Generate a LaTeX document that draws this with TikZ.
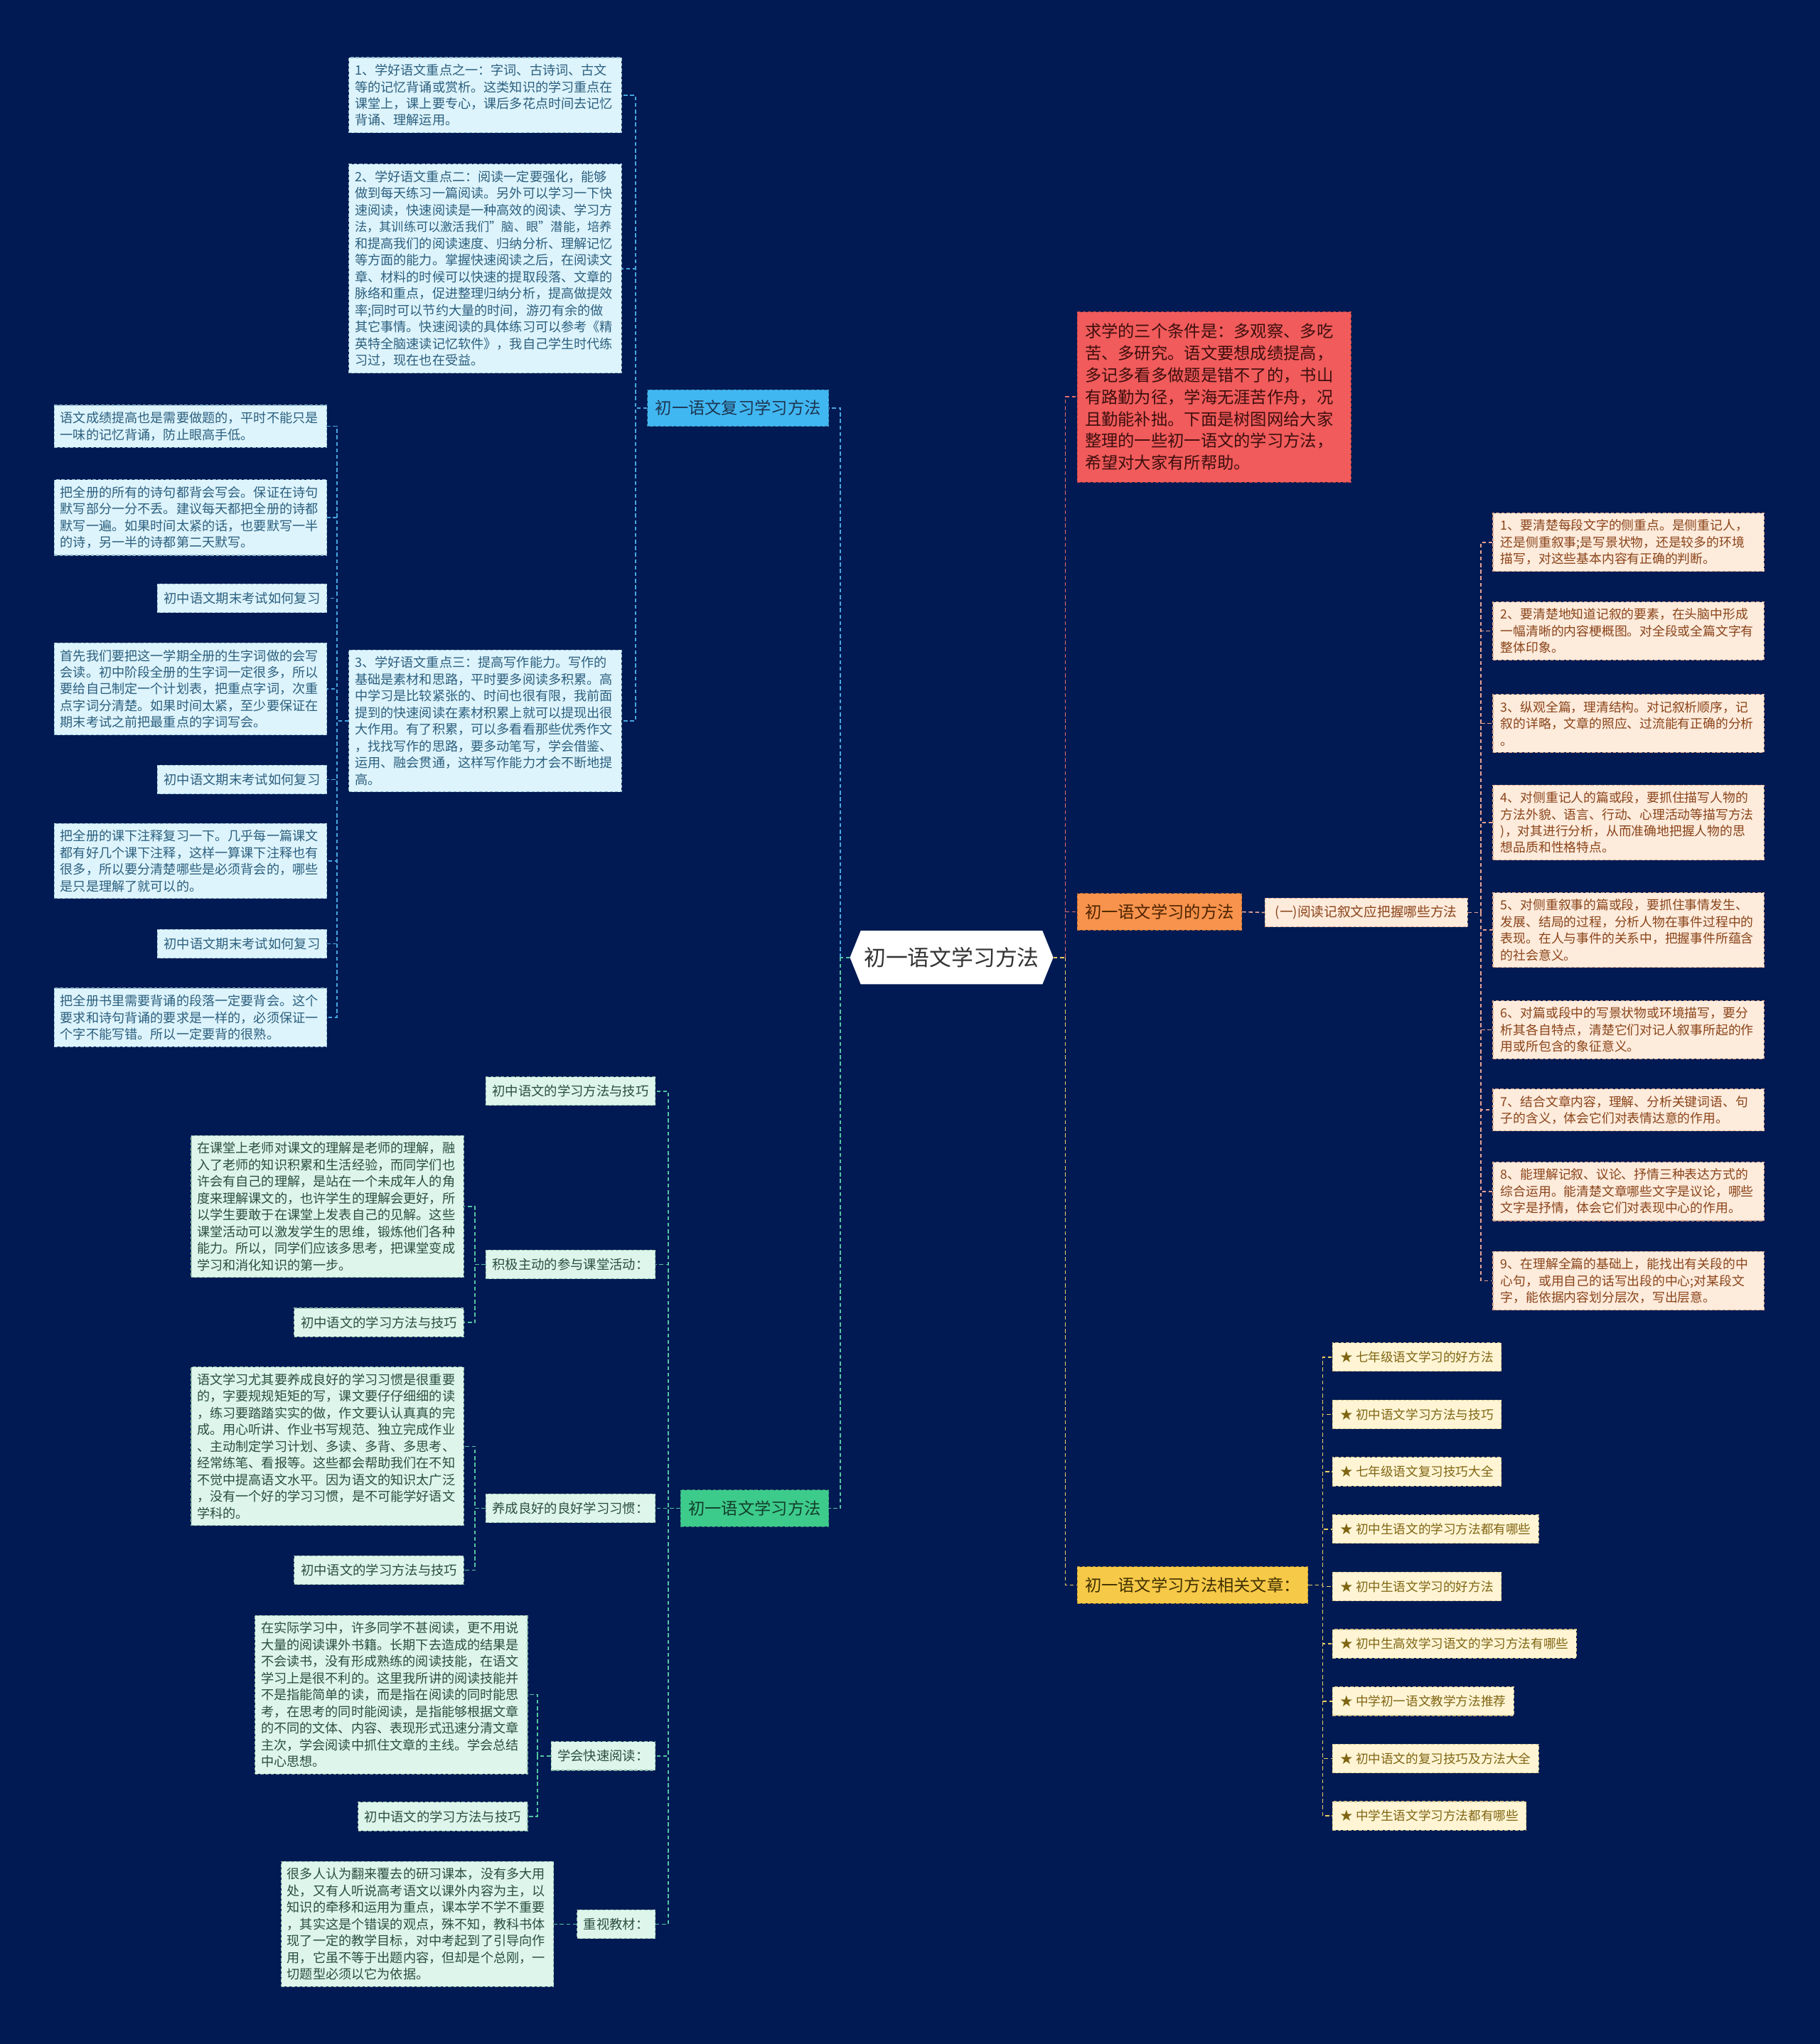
\documentclass[tikz,border=0pt]{standalone}
\usepackage{fontspec}
\setmainfont{Noto Sans CJK SC}
\usetikzlibrary{shapes.symbols}

\definecolor{Navy}{HTML}{011A53}
\definecolor{RootInk}{HTML}{333333}
\definecolor{BlueLeaf}{HTML}{DDF4FC}
\definecolor{BlueEdge}{HTML}{8FB8CC}
\definecolor{BlueInk}{HTML}{2C5F7E}
\definecolor{BlueBranch}{HTML}{41B7F2}
\definecolor{BlueBranchInk}{HTML}{1C3550}
\definecolor{GreenBranch}{HTML}{3DCB8B}
\definecolor{GreenBranchInk}{HTML}{123F2C}
\definecolor{GreenLeaf}{HTML}{DDF5EB}
\definecolor{GreenEdge}{HTML}{8DBBA8}
\definecolor{GreenInk}{HTML}{2B4E3F}
\definecolor{RedBox}{HTML}{F15B5B}
\definecolor{RedInk}{HTML}{3E0E0E}
\definecolor{OrangeBox}{HTML}{F7934C}
\definecolor{OrangeInk}{HTML}{4D2300}
\definecolor{PeachLeaf}{HTML}{FDEBDC}
\definecolor{PeachEdge}{HTML}{D9A88C}
\definecolor{PeachInk}{HTML}{8A4419}
\definecolor{YellowBox}{HTML}{F7C948}
\definecolor{YellowInk}{HTML}{3E3000}
\definecolor{Cream}{HTML}{FFF5D5}
\definecolor{CreamEdge}{HTML}{D8C58A}
\definecolor{CreamInk}{HTML}{7F6512}
\definecolor{LineBlue}{HTML}{47A6E0}
\definecolor{LineTeal}{HTML}{53C3A2}
\definecolor{LineRed}{HTML}{E46C6C}
\definecolor{LinePeach}{HTML}{E7A394}
\definecolor{LineYellow}{HTML}{EDD063}

\begin{document}
\begin{tikzpicture}[x=1pt, y=-1pt,
    box/.style={draw, dash pattern=on 2.5pt off 1.5pt, line width=0.6pt, align=left},
    leaf/.style={box, text width=200pt, inner xsep=4.5pt, inner ysep=5pt,
        font=\fontsize{9.9}{12.8}\selectfont},
    tag/.style={box, inner xsep=5pt, inner ysep=0pt, minimum height=22pt,
        font=\fontsize{10}{12}\selectfont},
    branch/.style={box, inner xsep=6pt, inner ysep=0pt, minimum height=28pt,
        font=\fontsize{12.7}{15}\selectfont},
    blueleaf/.style={fill=BlueLeaf, draw=BlueEdge, text=BlueInk},
    greenleaf/.style={fill=GreenLeaf, draw=GreenEdge, text=GreenInk},
    peachleaf/.style={fill=PeachLeaf, draw=PeachEdge, text=PeachInk},
    creamleaf/.style={fill=Cream, draw=CreamEdge, text=CreamInk},
    link/.style={dash pattern=on 3pt off 2pt, line width=0.9pt}
]

    \useasboundingbox (0,0) rectangle (1396,1568);
    \fill[Navy] (0,0) rectangle (1396,1568);

    % Root
    \node[signal, signal to=east and west, signal pointer angle=136, fill=white,
        minimum width=156pt, minimum height=41pt, inner xsep=2pt, inner ysep=0pt,
        text=RootInk, font=\fontsize{16.8}{20}\selectfont] (root) at (730,734.5) {初一语文学习方法};

    % Review branch
    \node[branch, fill=BlueBranch, draw=LineBlue!70!black, text=BlueBranchInk, anchor=east]
        (review) at (636,313) {初一语文复习学习方法};

    \node[leaf, blueleaf, anchor=east] (rv-1) at (477,73) {1、学好语文重点之一：字词、古诗词、古文\\等的记忆背诵或赏析。这类知识的学习重点在\\课堂上，课上要专心，课后多花点时间去记忆\\背诵、理解运用。};
    \node[leaf, blueleaf, anchor=east] (rv-2) at (477,206) {2、学好语文重点二：阅读一定要强化，能够\\做到每天练习一篇阅读。另外可以学习一下快\\速阅读，快速阅读是一种高效的阅读、学习方\\{\fontsize{9.4}{12.8}\selectfont 法，其训练可以激活我们"脑、眼"潜能，培养}\\和提高我们的阅读速度、归纳分析、理解记忆\\等方面的能力。掌握快速阅读之后，在阅读文\\章、材料的时候可以快速的提取段落、文章的\\脉络和重点，促进整理归纳分析，提高做提效\\率;同时可以节约大量的时间，游刃有余的做\\其它事情。快速阅读的具体练习可以参考《精\\英特全脑速读记忆软件》，我自己学生时代练\\习过，现在也在受益。};
    \node[leaf, blueleaf, anchor=east] (rv-3) at (477,553) {3、学好语文重点三：提高写作能力。写作的\\基础是素材和思路，平时要多阅读多积累。高\\中学习是比较紧张的、时间也很有限，我前面\\提到的快速阅读在素材积累上就可以提现出很\\大作用。有了积累，可以多看看那些优秀作文\\，找找写作的思路，要多动笔写，学会借鉴、\\运用、融会贯通，这样写作能力才会不断地提\\高。};

    \node[leaf, blueleaf, anchor=east] (rvn-1) at (251,327) {语文成绩提高也是需要做题的，平时不能只是\\一味的记忆背诵，防止眼高手低。};
    \node[leaf, blueleaf, anchor=east] (rvn-2) at (251,397) {把全册的所有的诗句都背会写会。保证在诗句\\默写部分一分不丢。建议每天都把全册的诗都\\默写一遍。如果时间太紧的话，也要默写一半\\的诗，另一半的诗都第二天默写。};
    \node[tag, blueleaf, anchor=east] (rvn-3) at (251,459) {初中语文期末考试如何复习};
    \node[leaf, blueleaf, anchor=east] (rvn-4) at (251,528.5) {首先我们要把这一学期全册的生字词做的会写\\会读。初中阶段全册的生字词一定很多，所以\\要给自己制定一个计划表，把重点字词，次重\\点字词分清楚。如果时间太紧，至少要保证在\\期末考试之前把最重点的字词写会。};
    \node[tag, blueleaf, anchor=east] (rvn-5) at (251,598) {初中语文期末考试如何复习};
    \node[leaf, blueleaf, anchor=east] (rvn-6) at (251,660.5) {把全册的课下注释复习一下。几乎每一篇课文\\都有好几个课下注释，这样一算课下注释也有\\很多，所以要分清楚哪些是必须背会的，哪些\\是只是理解了就可以的。};
    \node[tag, blueleaf, anchor=east] (rvn-7) at (251,724) {初中语文期末考试如何复习};
    \node[leaf, blueleaf, anchor=east] (rvn-8) at (251,780.5) {把全册书里需要背诵的段落一定要背会。这个\\要求和诗句背诵的要求是一样的，必须保证一\\个字不能写错。所以一定要背的很熟。};

    \draw[link, LineTeal] (root.west) -- ++(-7,0) coordinate (lspine);
    \draw[link, LineBlue] (lspine) |- (review.east);
    \foreach \i in {1,2,3}
        \draw[link, LineBlue] (review.west) -- ++(-9,0) |- (rv-\i.east);
    \foreach \i in {1,...,8}
        \draw[link, LineBlue] (rv-3.west) -- ++(-9,0) |- (rvn-\i.east);

    % Method branch
    \node[branch, fill=GreenBranch, draw=LineTeal!70!black, text=GreenBranchInk, anchor=east]
        (method) at (636,1157) {初一语文学习方法};

    \node[tag, greenleaf, anchor=east] (md-1) at (503,837) {初中语文的学习方法与技巧};
    \node[tag, greenleaf, anchor=east] (md-2) at (503,970) {积极主动的参与课堂活动：};
    \node[tag, greenleaf, anchor=east] (md-3) at (503,1157) {养成良好的良好学习习惯：};
    \node[tag, greenleaf, anchor=east] (md-4) at (503,1347) {学会快速阅读：};
    \node[tag, greenleaf, anchor=east] (md-5) at (503,1476) {重视教材：};

    \node[leaf, greenleaf, anchor=east] (mdt-1) at (356,925.5) {在课堂上老师对课文的理解是老师的理解，融\\入了老师的知识积累和生活经验，而同学们也\\许会有自己的理解，是站在一个未成年人的角\\度来理解课文的，也许学生的理解会更好，所\\以学生要敢于在课堂上发表自己的见解。这些\\课堂活动可以激发学生的思维，锻炼他们各种\\能力。所以，同学们应该多思考，把课堂变成\\学习和消化知识的第一步。};
    \node[tag, greenleaf, anchor=east] (mdt-1b) at (356,1014.5) {初中语文的学习方法与技巧};
    \node[leaf, greenleaf, anchor=east] (mdt-2) at (356,1109.5) {语文学习尤其要养成良好的学习习惯是很重要\\的，字要规规矩矩的写，课文要仔仔细细的读\\，练习要踏踏实实的做，作文要认认真真的完\\成。用心听讲、作业书写规范、独立完成作业\\、主动制定学习计划、多读、多背、多思考、\\经常练笔、看报等。这些都会帮助我们在不知\\不觉中提高语文水平。因为语文的知识太广泛\\，没有一个好的学习习惯，是不可能学好语文\\学科的。};
    \node[tag, greenleaf, anchor=east] (mdt-2b) at (356,1204.5) {初中语文的学习方法与技巧};
    \node[leaf, greenleaf, anchor=east] (mdt-3) at (405,1300) {在实际学习中，许多同学不甚阅读，更不用说\\大量的阅读课外书籍。长期下去造成的结果是\\不会读书，没有形成熟练的阅读技能，在语文\\学习上是很不利的。这里我所讲的阅读技能并\\不是指能简单的读，而是指在阅读的同时能思\\考，在思考的同时能阅读，是指能够根据文章\\的不同的文体、内容、表现形式迅速分清文章\\主次，学会阅读中抓住文章的主线。学会总结\\中心思想。};
    \node[tag, greenleaf, anchor=east] (mdt-3b) at (405,1393.5) {初中语文的学习方法与技巧};
    \node[leaf, greenleaf, anchor=east] (mdt-4) at (425,1476) {很多人认为翻来覆去的研习课本，没有多大用\\处，又有人听说高考语文以课外内容为主，以\\知识的牵移和运用为重点，课本学不学不重要\\，其实这是个错误的观点，殊不知，教科书体\\现了一定的教学目标，对中考起到了引导向作\\用，它虽不等于出题内容，但却是个总刚，一\\切题型必须以它为依据。};

    \draw[link, LineTeal] (lspine) |- (method.east);
    \foreach \i in {1,...,5}
        \draw[link, LineTeal] (method.west) -- ++(-9,0) |- (md-\i.east);
    \draw[link, LineTeal] (md-2.west) -- ++(-8,0) |- (mdt-1.east);
    \draw[link, LineTeal] (md-2.west) -- ++(-8,0) |- (mdt-1b.east);
    \draw[link, LineTeal] (md-3.west) -- ++(-8,0) |- (mdt-2.east);
    \draw[link, LineTeal] (md-3.west) -- ++(-8,0) |- (mdt-2b.east);
    \draw[link, LineTeal] (md-4.west) -- ++(-10,0) |- (mdt-3.east);
    \draw[link, LineTeal] (md-4.west) -- ++(-10,0) |- (mdt-3b.east);
    \draw[link, LineTeal] (md-5.west) -- (mdt-4.east);

    % Intro
    \node[box, fill=RedBox, draw=RedBox!75!black, text=RedInk, text width=198pt,
        inner xsep=6pt, inner ysep=9pt, font=\fontsize{12.7}{16.8}\selectfont, anchor=west]
        (intro) at (826,304.5) {求学的三个条件是：多观察、多吃\\苦、多研究。语文要想成绩提高，\\多记多看多做题是错不了的，书山\\有路勤为径，学海无涯苦作舟，况\\且勤能补拙。下面是树图网给大家\\整理的一些初一语文的学习方法，\\希望对大家有所帮助。};

    \draw[link, LineYellow] (root.east) -- ++(9,0) coordinate (rspine);
    \draw[link, LineRed] (rspine) |- (intro.west);

    % Reading branch
    \node[branch, fill=OrangeBox, draw=OrangeBox!70!black, text=OrangeInk, anchor=west]
        (read) at (826,699.5) {初一语文学习的方法};
    \node[tag, peachleaf, inner xsep=8pt, font=\fontsize{10.2}{12}\selectfont, anchor=west]
        (readsub) at (970,700) {(一)阅读记叙文应把握哪些方法};

    \foreach \y/\txt [count=\i] in {
        416/{1、要清楚每段文字的侧重点。是侧重记人，\\还是侧重叙事;是写景状物，还是较多的环境\\描写，对这些基本内容有正确的判断。},
        484/{2、要清楚地知道记叙的要素，在头脑中形成\\一幅清晰的内容梗概图。对全段或全篇文字有\\整体印象。},
        555/{3、纵观全篇，理清结构。对记叙析顺序，记\\叙的详略，文章的照应、过流能有正确的分析\\。},
        631/{4、对侧重记人的篇或段，要抓住描写人物的\\方法外貌、语言、行动、心理活动等描写方法\\)，对其进行分析，从而准确地把握人物的思\\想品质和性格特点。},
        713.5/{5、对侧重叙事的篇或段，要抓住事情发生、\\发展、结局的过程，分析人物在事件过程中的\\表现。在人与事件的关系中，把握事件所蕴含\\的社会意义。},
        790/{6、对篇或段中的写景状物或环境描写，要分\\析其各自特点，清楚它们对记人叙事所起的作\\用或所包含的象征意义。},
        851.5/{7、结合文章内容，理解、分析关键词语、句\\子的含义，体会它们对表情达意的作用。},
        914/{8、能理解记叙、议论、抒情三种表达方式的\\综合运用。能清楚文章哪些文字是议论，哪些\\文字是抒情，体会它们对表现中心的作用。},
        982.5/{9、在理解全篇的基础上，能找出有关段的中\\心句，或用自己的话写出段的中心;对某段文\\字，能依据内容划分层次，写出层意。}} {
        \node[leaf, peachleaf, text width=196pt, inner xsep=6pt,
            font=\fontsize{9.7}{12.8}\selectfont, anchor=west] (rd-\i) at (1145,\y) {\txt};
        \draw[link, LinePeach] (readsub.east) -- ++(10,0) |- (rd-\i.west);
    }

    \draw[link, LineRed] (rspine) |- (read.west);
    \draw[link, LinePeach] (read.east) -- (readsub.west);

    % Related articles
    \node[branch, fill=YellowBox, draw=YellowBox!70!black, text=YellowInk, anchor=west]
        (links) at (826,1216) {初一语文学习方法相关文章：};

    \foreach \txt [count=\i] in {七年级语文学习的好方法, 初中语文学习方法与技巧,
        七年级语文复习技巧大全, 初中生语文的学习方法都有哪些, 初中生语文学习的好方法,
        初中生高效学习语文的学习方法有哪些, 中学初一语文教学方法推荐,
        初中语文的复习技巧及方法大全, 中学生语文学习方法都有哪些} {
        \node[tag, creamleaf, inner xsep=6pt, font=\fontsize{9.6}{12}\selectfont, anchor=west]
            (lk-\i) at (1022,997+44*\i) {★ \txt};
        \draw[link, LineYellow] (links.east) -- ++(11,0) |- (lk-\i.west);
    }

    \draw[link, LineYellow] (rspine) |- (links.west);

\end{tikzpicture}
\end{document}
